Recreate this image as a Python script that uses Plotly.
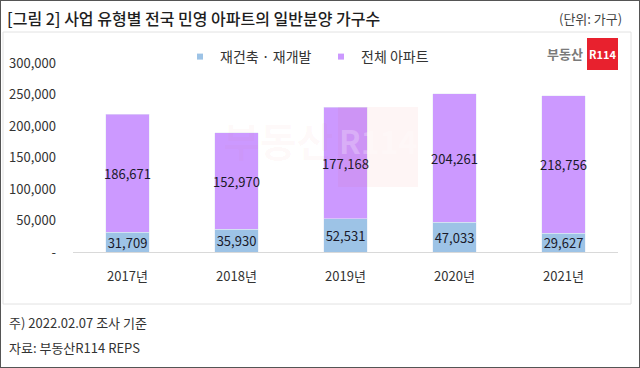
import plotly.graph_objects as go

years = ["2017년", "2018년", "2019년", "2020년", "2021년"]
redev = [31709, 35930, 52531, 47033, 29627]
total_apt = [186671, 152970, 177168, 204261, 218756]
ytick_vals = [0, 50000, 100000, 150000, 200000, 250000, 300000]
ytick_text = ["-", "50,000", "100,000", "150,000", "200,000", "250,000", "300,000"]

W, H = 640, 368
FONT = "Noto Sans CJK KR"
BLUE = "#9DC3E6"
PURPLE = "#CC99FF"


def px(x):
    return x / W


def py(y):
    return 1 - y / H


fig = go.Figure()
fig.add_trace(go.Bar(
    x=years, y=redev, name="재건축 · 재개발", marker_color=BLUE,
    text=[f"{v:,}" for v in redev], textposition="inside", insidetextanchor="middle",
    textangle=0, constraintext="none", textfont=dict(family=FONT, size=13, color="#1a1a2a"),
    showlegend=False,
))
fig.add_trace(go.Bar(
    x=years, y=total_apt, name="전체 아파트", marker_color=PURPLE,
    text=[f"{v:,}" for v in total_apt], textposition="inside", insidetextanchor="middle",
    textangle=0, constraintext="none", textfont=dict(family=FONT, size=13, color="#1a1a2a"),
    showlegend=False,
))
# legend entries (small square markers)
fig.add_trace(go.Scatter(x=[None], y=[None], mode="markers", name="재건축 · 재개발",
                         marker=dict(symbol="square", size=6, color=BLUE)))
fig.add_trace(go.Scatter(x=[None], y=[None], mode="markers", name="전체 아파트",
                         marker=dict(symbol="square", size=6, color=PURPLE)))

P = dict(xref="paper", yref="paper")
shapes = [
    dict(type="rect", x0=0, x1=1, y0=0, y1=1, line=dict(color="#555555", width=2), **P),
    dict(type="rect", x0=px(3), x1=px(631), y0=py(304), y1=py(32),
         line=dict(color="#e2e2e2", width=1), **P),
    dict(type="rect", x0=px(587), x1=px(618), y0=py(70), y1=py(38),
         line=dict(width=0), fillcolor="#E8212E", **P),
    dict(type="rect", x0=px(338), x1=px(418), y0=py(187), y1=py(107),
         line=dict(width=0), fillcolor="rgba(240,60,60,0.05)", layer="above", **P),
]


def ann(text, x, y, xanchor, size, color, weight="normal"):
    return dict(text=text, x=px(x), y=py(y), xanchor=xanchor, yanchor="middle",
                showarrow=False, font=dict(family=FONT, size=size, color=color, weight=weight), **P)


annotations = [
    ann("[그림 2] 사업 유형별 전국 민영 아파트의 일반분양 가구수", 5, 18, "left", 16, "#1e1e1e", 500),
    ann("(단위: 가구)", 624, 18, "right", 13, "#444444"),
    ann("주) 2022.02.07 조사 기준", 7, 322, "left", 13, "#333333"),
    ann("자료: 부동산R114 REPS", 7, 347, "left", 13, "#333333"),
    ann("부동산", 585, 54, "right", 13, "#7a7a7a", "bold"),
    ann("R114", 602.5, 54, "center", 11, "white", "bold"),
    ann("부동산", 278, 140, "center", 40, "rgba(230,90,90,0.035)", "bold"),
    ann("R114", 378, 140, "center", 32, "rgba(255,255,255,0.25)", "bold"),
]

fig.update_layout(
    width=W, height=H,
    margin=dict(l=0, r=0, t=0, b=0, autoexpand=False),
    paper_bgcolor="white", plot_bgcolor="white",
    barmode="stack", bargap=0.6,
    font=dict(family=FONT, size=13, color="#333333"),
    shapes=shapes, annotations=annotations,
    legend=dict(orientation="h", x=px(180), y=py(57), xanchor="left", yanchor="middle",
                font=dict(family=FONT, size=14, color="#333333"), bgcolor="rgba(0,0,0,0)",
                itemwidth=30, tracegroupgap=0, traceorder="normal",
                entrywidth=96, entrywidthmode="pixels"),
    xaxis=dict(domain=[px(73), px(618)], showline=True, linecolor="#d9d9d9", linewidth=1,
               ticks="", ticklabelstandoff=12, showgrid=False, automargin=False,
               tickfont=dict(family=FONT, size=13, color="#333333")),
    yaxis=dict(domain=[py(252), py(63)], range=[0, 300000], tickvals=ytick_vals,
               ticktext=ytick_text, showgrid=False, zeroline=False, showline=False,
               ticks="", ticklabelstandoff=16, automargin=False,
               tickfont=dict(family=FONT, size=13, color="#333333")),
)

fig.write_html("out.html", config={"displayModeBar": False},
               post_script="document.body.style.margin='0';")
